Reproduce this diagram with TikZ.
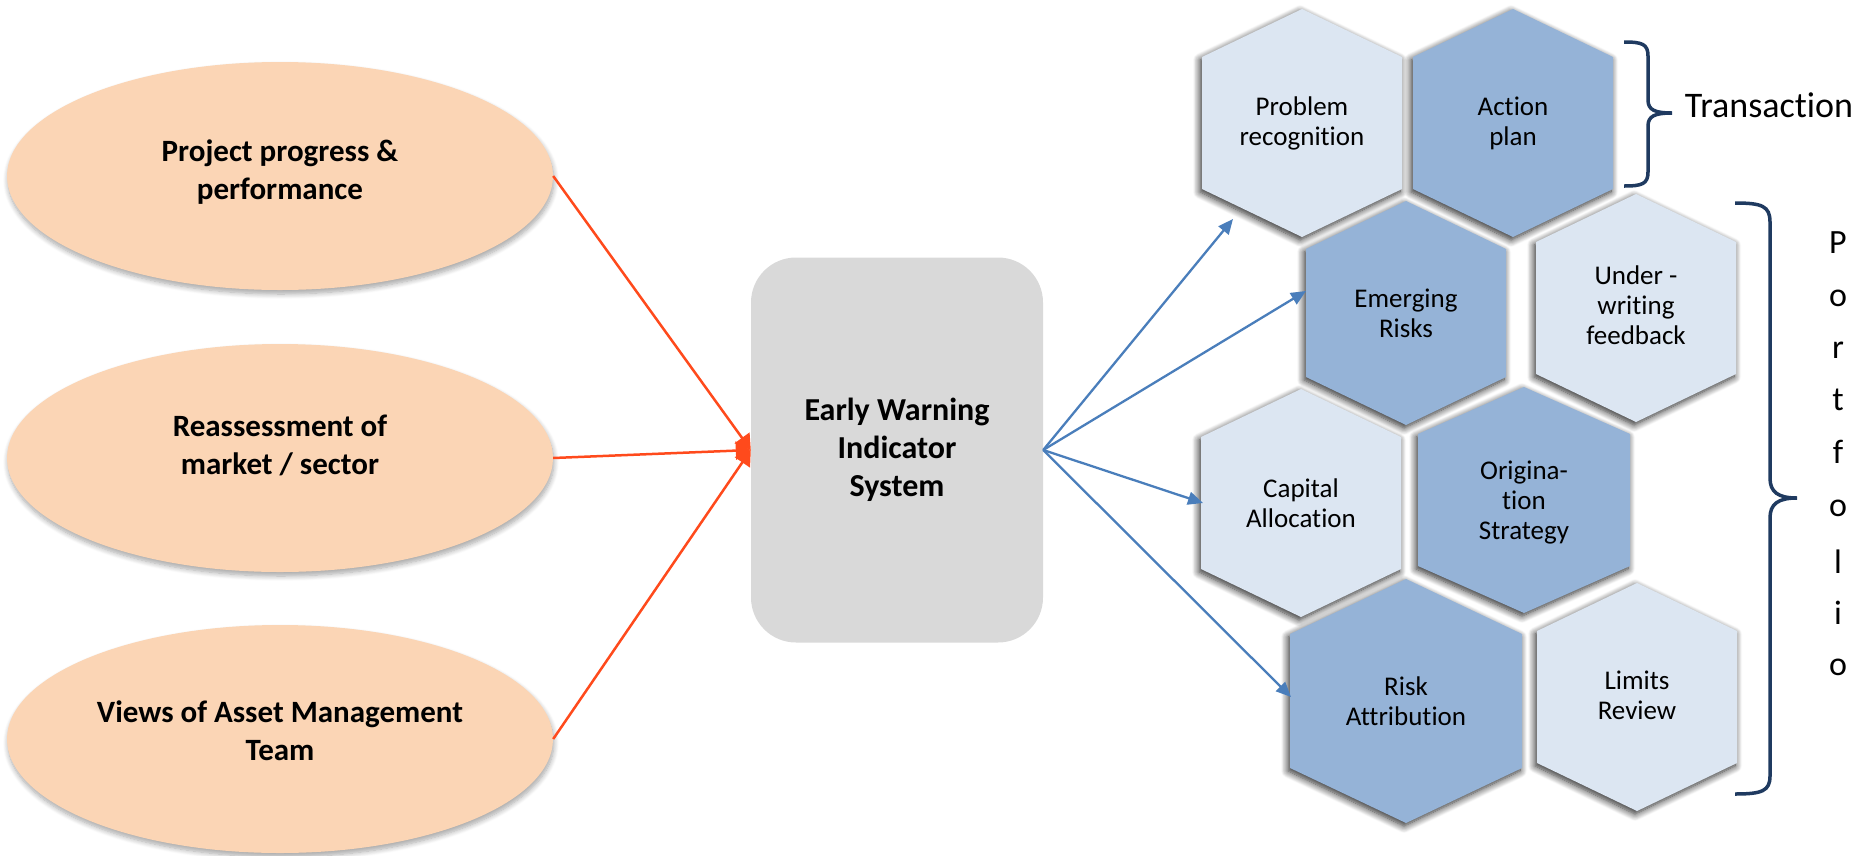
\documentclass[tikz,border=0pt]{standalone}
\usepackage{fontspec}
\setmainfont{Carlito}[Ligatures=NoCommon]
\usetikzlibrary{arrows.meta,shapes.geometric,shadows.blur,calc}
\definecolor{peach}{HTML}{FBD5B5}
\definecolor{boxgray}{HTML}{D9D9D9}
\definecolor{hexlight}{HTML}{DCE6F2}
\definecolor{hexdark}{HTML}{95B3D7}
\definecolor{redline}{HTML}{FF4A1C}
\definecolor{blueline}{HTML}{4A7EBB}
\definecolor{navy}{HTML}{1F3A60}
\newcommand{\hexfill}[6]{%
  \fill[#1] (#2-#4,#3-#6) -- (#2,#3-#5) -- (#2+#4,#3-#6) -- (#2+#4,#3+#6) -- (#2,#3+#5) -- (#2-#4,#3+#6) -- cycle;}
\tikzset{
  ellipsebox/.style={ellipse, fill=peach, minimum width=546pt, minimum height=228pt, inner sep=0pt,
    blur shadow={shadow blur steps=8, shadow xshift=1pt, shadow yshift=-4pt, shadow blur radius=5pt, shadow opacity=35}},
  eltext/.style={align=center, font=\fontsize{31}{38}\selectfont\bfseries, text=black},
  boxnode/.style={rectangle, rounded corners=45pt, fill=boxgray, minimum width=292pt, minimum height=385pt,
    align=center, font=\fontsize{32}{38}\selectfont\bfseries},
  hextext/.style={align=center, font=\fontsize{27}{30}\selectfont, text=black},
  hexshadow/.style={blur shadow={shadow blur steps=10, shadow xshift=-2pt, shadow yshift=-3pt, shadow blur radius=7pt, shadow opacity=85}},
  hexL/.style={fill=hexlight, hexshadow},
  hexD/.style={fill=hexdark, hexshadow},
  redarrow/.style={draw=redline, line width=2.5pt, -{Triangle[length=15pt,width=18pt]}},
  bluearrow/.style={draw=blueline, line width=2.3pt, -{Triangle[length=15pt,width=13pt]}},
  bracestyle/.style={draw=navy, line width=3.5pt},
  transl/.style={font=\fontsize{36}{40}\selectfont, text=black},
  portl/.style={font=\fontsize{34}{36}\selectfont, text=black, anchor=center}
}
\begin{document}
\begin{tikzpicture}[x=1pt, y=-1pt]
\useasboundingbox (0,0) rectangle (1872,855);

% input ellipses
\node[ellipsebox] (e1) at (280,176) {};
\node[ellipsebox] (e2) at (280,458) {};
\node[ellipsebox] (e3) at (280,739) {};
\node[eltext] (t1) at (280,172) {Project progress \&\\performance};
\node[eltext] (t2) at (280,445) {Reassessment of\\market / sector};
\node[eltext] (t3) at (280,731) {Views of Asset Management\\Team};

% central box
\node[boxnode] (box) at (897,450) {Early Warning\\Indicator\\System};

% red arrows
\draw[redarrow] (e1.east) -- (box.west);
\draw[redarrow] (e2.east) -- (box.west);
\draw[redarrow] (e3.east) -- (box.west);

% hexagons
\hexfill{hexL}{1302}{123}{100}{114}{66}
\hexfill{hexD}{1513}{123}{100}{114}{66}
\hexfill{hexD}{1406}{313}{100}{112}{64}
\hexfill{hexL}{1636}{308}{100}{114}{66}
\hexfill{hexL}{1301}{503}{100}{114}{66}
\hexfill{hexD}{1524}{500}{106}{113}{66}
\hexfill{hexD}{1406}{701}{116}{122}{67}
\hexfill{hexL}{1637}{697}{100}{114}{66}

\node[hextext] (pr) at (1302,123) {Problem\\recognition};
\node[hextext] (ap) at (1513,123) {Action\\plan};
\node[hextext] (er) at (1406,313) {Emerging\\Risks};
\node[hextext] (uw) at (1636,305) {Under -\\writing\\feedback};
\node[hextext] (ca) at (1301,503) {Capital\\Allocation};
\node[hextext] (os) at (1524,503) {Origina-\\tion\\Strategy};
\node[hextext] (ra) at (1406,701) {Risk\\Attribution};
\node[hextext] (lr) at (1637,695) {Limits\\Review};

% blue arrow targets
\coordinate (a1) at (1233,219);
\coordinate (a2) at (1306,291);
\coordinate (a3) at (1203,503);
\coordinate (a4) at (1291,697);
\draw[bluearrow] (box.east) -- (a1);
\draw[bluearrow] (box.east) -- (a2);
\draw[bluearrow] (box.east) -- (a3);
\draw[bluearrow] (box.east) -- (a4);

% braces
\draw[bracestyle] (1624,42) .. controls (1642,42) and (1648,44) .. (1648,56) -- (1648,100)
  .. controls (1648,110) and (1655,113) .. (1672,113)
  .. controls (1655,113) and (1648,116) .. (1648,126) -- (1648,172)
  .. controls (1648,184) and (1642,186) .. (1624,186);
\draw[bracestyle] (1735,203) .. controls (1762,203) and (1770,206) .. (1770,222) -- (1770,478)
  .. controls (1770,492) and (1778,498) .. (1797,498)
  .. controls (1778,498) and (1770,504) .. (1770,518) -- (1770,776)
  .. controls (1770,791) and (1762,794) .. (1735,794);

\node[transl] (trans) at (1769,105) {Transaction};
\foreach \l/\yy [count=\i] in {P/243,o/298,r/350,t/400,f/452,o/508,l/562,i/613,o/667}
  \node[portl] (port\i) at (1838,\yy) {\l};
\end{tikzpicture}
\end{document}
